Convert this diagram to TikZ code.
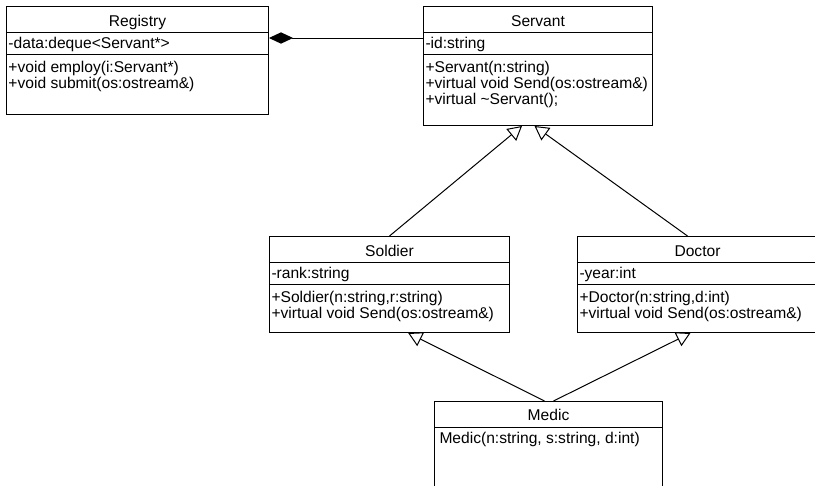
\documentclass[tikz,border=0pt]{standalone}
\usepackage{fontspec}
\setmainfont{Liberation Sans}
\usetikzlibrary{arrows.meta}

\begin{document}
\begin{tikzpicture}[x=0.75pt, y=-0.75pt, line width=0.75pt,
  font=\fontsize{11.7}{14}\selectfont,
  classbox/.style={draw, anchor=north west, inner sep=0pt},
  classname/.style={anchor=base, inner sep=0pt},
  member/.style={anchor=base west, inner sep=0pt},
  inherit/.style={-{Triangle[open, length=10.5pt, width=11.5pt]}},
  compose/.style={-{Diamond[length=18pt, width=8.5pt]}}]

  \clip (0,0) rectangle (815,486);

  % Registry
  \node[classbox, minimum width=196.5pt, minimum height=81pt] (registry) at (6,6) {};
  \draw (registry.north west) ++(0,26) -- ++(262,0);
  \draw (registry.north west) ++(0,48) -- ++(262,0);
  \node[classname] (registry-name) at ([yshift=-15pt]registry.north) {Registry};
  \node[member] (registry-data) at ([shift={(2,42)}]registry.north west) {-data:deque<Servant*>};
  \node[member] (registry-employ) at ([shift={(2,66)}]registry.north west) {+void employ(i:Servant*)};
  \node[member] (registry-submit) at ([shift={(2,82)}]registry.north west) {+void submit(os:ostream\&)};

  % Servant
  \node[classbox, minimum width=171.75pt, minimum height=89.25pt] (servant) at (423,6) {};
  \draw (servant.north west) ++(0,26) -- ++(229,0);
  \draw (servant.north west) ++(0,48) -- ++(229,0);
  \node[classname] (servant-name) at ([yshift=-15pt]servant.north) {Servant};
  \node[member] (servant-id) at ([shift={(2,42)}]servant.north west) {-id:string};
  \node[member] (servant-ctor) at ([shift={(2,66)}]servant.north west) {+Servant(n:string)};
  \node[member] (servant-send) at ([shift={(2,82)}]servant.north west) {+virtual void Send(os:ostream\&)};
  \node[member] (servant-dtor) at ([shift={(2,98)}]servant.north west) {+virtual \textasciitilde Servant();};

  % Soldier
  \node[classbox, minimum width=180pt, minimum height=72pt] (soldier) at (269,236) {};
  \draw (soldier.north west) ++(0,26) -- ++(240,0);
  \draw (soldier.north west) ++(0,48) -- ++(240,0);
  \node[classname] (soldier-name) at ([yshift=-15pt]soldier.north) {Soldier};
  \node[member] (soldier-rank) at ([shift={(2,42)}]soldier.north west) {-rank:string};
  \node[member] (soldier-ctor) at ([shift={(2,66)}]soldier.north west) {+Soldier(n:string,r:string)};
  \node[member] (soldier-send) at ([shift={(2,82)}]soldier.north west) {+virtual void Send(os:ostream\&)};

  % Doctor
  \node[classbox, minimum width=180pt, minimum height=72pt] (doctor) at (577,236) {};
  \draw (doctor.north west) ++(0,26) -- ++(240,0);
  \draw (doctor.north west) ++(0,48) -- ++(240,0);
  \node[classname] (doctor-name) at ([yshift=-15pt]doctor.north) {Doctor};
  \node[member] (doctor-year) at ([shift={(2,42)}]doctor.north west) {-year:int};
  \node[member] (doctor-ctor) at ([shift={(2,66)}]doctor.north west) {+Doctor(n:string,d:int)};
  \node[member] (doctor-send) at ([shift={(2,82)}]doctor.north west) {+virtual void Send(os:ostream\&)};

  % Medic
  \node[classbox, minimum width=171pt, minimum height=82.5pt] (medic) at (434,401) {};
  \draw (medic.north west) ++(0,26) -- ++(228,0);
  \node[classname] (medic-name) at ([yshift=-14.25pt]medic.north) {Medic};
  \node[member] (medic-ctor) at ([shift={(5,42)}]medic.north west) {Medic(n:string, s:string, d:int)};

  % composition
  \draw[compose] ([yshift=-24pt]servant.north west) -- ([yshift=-24pt]registry.north east);

  % inheritance
  \draw[inherit] (soldier.north) -- ([xshift=-12pt]servant.south);
  \draw[inherit] ([xshift=-7.5pt]doctor.north) -- ([xshift=-2.6pt]servant.south);
  \draw[inherit] ([xshift=-3pt]medic.north) -- ([xshift=14pt]soldier.south);
  \draw[inherit] ([xshift=3.75pt]medic.north) -- ([xshift=-5.25pt]doctor.south);

\end{tikzpicture}
\end{document}
